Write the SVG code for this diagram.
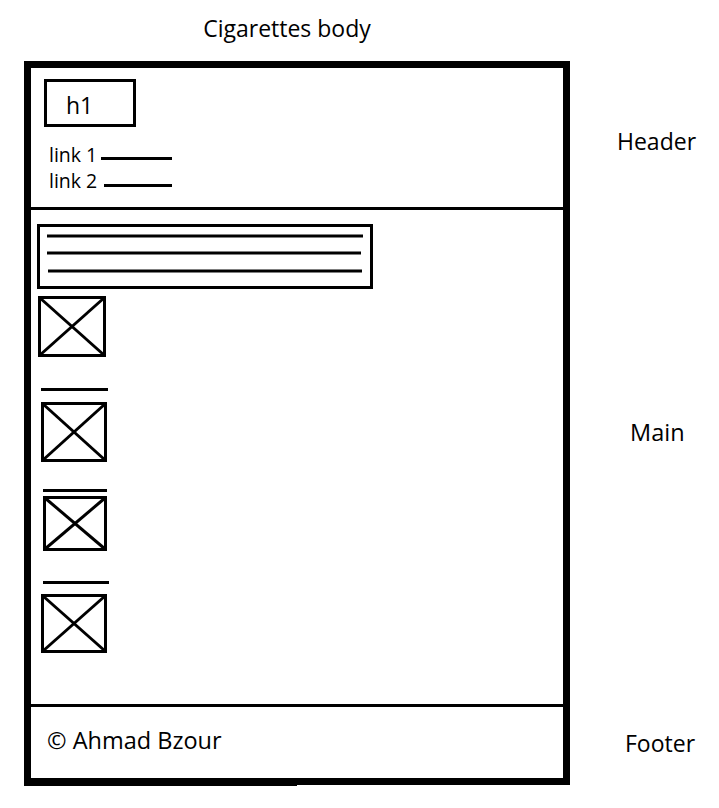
<svg xmlns="http://www.w3.org/2000/svg" width="719" height="808" viewBox="0 0 719 808">
<style>
.t{font-family:"Open Sans","Noto Sans","Liberation Sans",sans-serif;fill:#000}
.b{fill:none;stroke:#000;stroke-width:3}
.l{stroke:#000;stroke-width:3}
</style>
<rect width="719" height="808" fill="#fff"/>
<g id="labels">
<text class="t" x="287" y="37" font-size="23" text-anchor="middle">Cigarettes body</text>
<text class="t" x="617" y="150" font-size="23">Header</text>
<text class="t" x="630" y="441" font-size="23.500">Main</text>
<text class="t" x="625" y="752" font-size="23">Footer</text>
</g>
<g id="frame">
<rect x="27.500" y="64.500" width="539" height="717" fill="none" stroke="#000" stroke-width="7"/>
<rect x="24" y="780" width="273" height="6" fill="#000"/>
<line class="l" x1="31" y1="208.500" x2="563" y2="208.500"/>
<line class="l" x1="31" y1="705.500" x2="563" y2="705.500"/>
</g>
<g id="header">
<rect class="b" x="45.500" y="80.500" width="89" height="45"/>
<text class="t" x="66" y="114" font-size="23">h1</text>
<text class="t" x="49" y="162" font-size="19.500">link 1</text>
<line class="l" x1="101" y1="158.500" x2="172" y2="158.500"/>
<text class="t" x="49" y="188" font-size="19.500">link 2</text>
<line class="l" x1="104" y1="185.500" x2="172" y2="185.500"/>
</g>
<g id="main">
<rect class="b" x="38.500" y="225.500" width="333" height="62"/>
<line class="l" x1="47" y1="236" x2="363" y2="236"/>
<line class="l" x1="47" y1="253" x2="361" y2="253"/>
<line class="l" x1="48" y1="271" x2="362" y2="271"/>
<g id="img1">
<rect class="b" x="39.500" y="297.500" width="65" height="58"/>
<line class="l" x1="40" y1="298" x2="104" y2="355"/>
<line class="l" x1="104" y1="298" x2="40" y2="355"/>
</g>
<g id="img2">
<line class="l" x1="41" y1="389.500" x2="108" y2="389.500"/>
<rect class="b" x="42.500" y="403.500" width="63" height="57"/>
<line class="l" x1="43" y1="404" x2="105" y2="460"/>
<line class="l" x1="105" y1="404" x2="43" y2="460"/>
</g>
<g id="img3">
<line class="l" x1="43" y1="490.500" x2="107" y2="490.500"/>
<rect class="b" x="44.500" y="497.500" width="61" height="52"/>
<line class="l" x1="45" y1="498" x2="105" y2="549"/>
<line class="l" x1="105" y1="498" x2="45" y2="549"/>
</g>
<g id="img4">
<line class="l" x1="43" y1="582.500" x2="109" y2="582.500"/>
<rect class="b" x="42.500" y="595.500" width="63" height="56"/>
<line class="l" x1="43" y1="596" x2="105" y2="651"/>
<line class="l" x1="105" y1="596" x2="43" y2="651"/>
</g>
</g>
<g id="footer">
<text class="t" x="47" y="749" font-size="23.500">© Ahmad Bzour</text>
</g>
</svg>
